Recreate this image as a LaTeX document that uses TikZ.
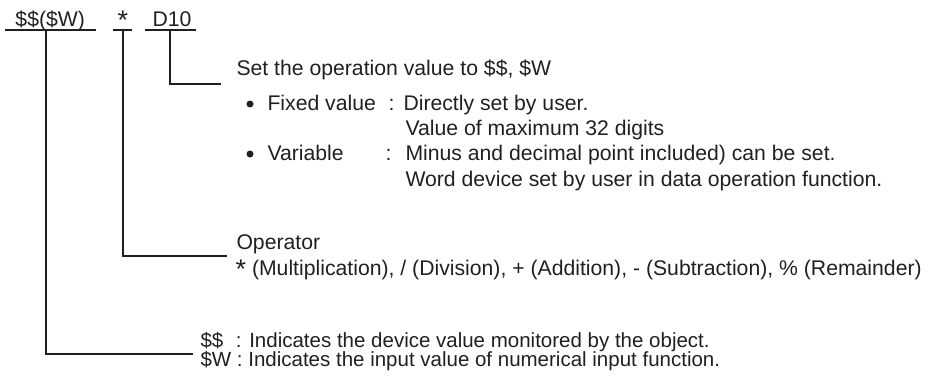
\documentclass[tikz,border=0pt]{standalone}
\usepackage{fontspec}
\setmainfont{Liberation Sans}
\definecolor{ink}{RGB}{35,31,32}
\newcommand{\bigast}{\raisebox{-3.5pt}{\fontsize{27}{27}\selectfont *}}

\begin{document}
\begin{tikzpicture}[x=1pt, y=-1pt, line width=1pt, ink,
        txt/.style={anchor=base west, inner sep=0pt, text=ink, text height=14.5pt, text depth=3.5pt,
            font=\fontsize{21.2}{21.2}\selectfont},
        dot/.style={circle, fill=ink, inner sep=0pt, minimum size=7pt},
        lead/.style={draw=ink, line width=1.1pt}]
    \useasboundingbox (0,0) rectangle (935,381);
    % expression on top
    \node[txt] (sw)  at (15,26)  {\$\$(\$W)};
    \node[txt] (opr) at (117,26) {\bigast};
    \node[txt] (dev) at (152,26) {D10};
    \draw[lead] (5,30) -- (96,30);
    \draw[lead] (113,30) -- (132,30);
    \draw[lead] (145,30) -- (196,30);
    \coordinate (swdn)  at (46,30);
    \coordinate (oprdn) at (123,30);
    \coordinate (devdn) at (170,30);
    % operation value
    \node[txt] (set) at (236,75) {Set the operation value to \$\$, \$W};
    \node[dot] (b1)  at (250,104) {};
    \node[txt] (fix) at (267,110) {Fixed value};
    \node[txt] (c1)  at (388,110) {:};
    \node[txt] (fixv) at (403,110) {Directly set by user.};
    \node[txt] (maxd) at (405,135) {Value of maximum 32 digits};
    \node[dot] (b2)  at (250,154) {};
    \node[txt] (var) at (267,160) {Variable};
    \node[txt] (c2)  at (385,160) {:};
    \node[txt] (varv) at (405,160) {Minus and decimal point included) can be set.};
    \node[txt] (word) at (405,186) {Word device set by user in data operation function.};
    % operator
    \node[txt] (oper) at (236,249) {Operator};
    \node[txt] (olst) at (235,275) {\bigast\hspace{6pt}(Multiplication), / (Division), + (Addition), - (Subtraction), \% (Remainder)};
    % monitored value
    \node[txt, font=\fontsize{20.5}{20.5}\selectfont] (dd) at (200,347) {\$\$\hspace{7pt} : Indicates the device value monitored by the object.};
    \node[txt, font=\fontsize{20.5}{20.5}\selectfont] (dw) at (200,366) {\$W : Indicates the input value of numerical input function.};
    % leaders
    \draw[lead] (devdn) |- ([xshift=-15pt,yshift=-9pt]set.base west);
    \draw[lead] (oprdn) |- ([xshift=-9pt,yshift=-7pt]oper.base west);
    \draw[lead] (swdn) |- ([xshift=-7pt,yshift=-7pt]dd.base west);
\end{tikzpicture}
\end{document}
